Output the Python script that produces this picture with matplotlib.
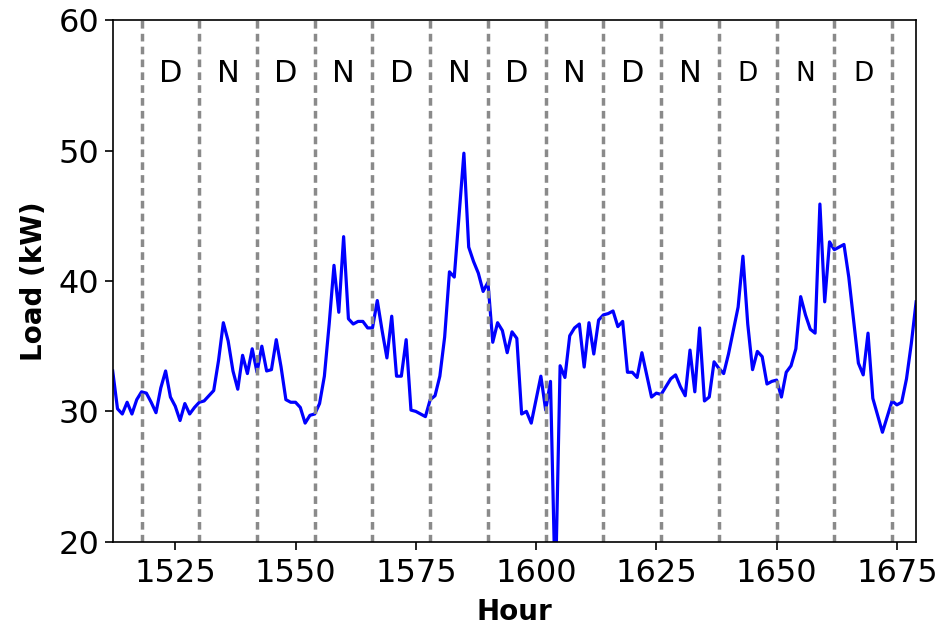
import numpy as np
import matplotlib
matplotlib.use("Agg")
import matplotlib.pyplot as plt

# hourly load, hours 1512..1679
start_hour = 1512
load_kw = [
    33.1, 30.2, 29.8, 30.7, 29.8, 30.9, 31.5, 31.4, 30.7, 29.9,
    31.8, 33.1, 31.1, 30.4, 29.3, 30.6, 29.8, 30.3, 30.7, 30.8,
    31.2, 31.6, 33.9, 36.8, 35.4, 33.1, 31.7, 34.3, 32.9, 34.8,
    33.0, 35.0, 33.1, 33.2, 35.5, 33.4, 30.9, 30.7, 30.7, 30.3,
    29.1, 29.7, 29.8, 30.6, 32.7, 36.7, 41.2, 37.6, 43.4, 37.1,
    36.7, 36.9, 36.9, 36.4, 36.4, 38.5, 36.2, 34.1, 37.3, 32.7,
    32.7, 35.5, 30.1, 30.0, 29.8, 29.6, 30.9, 31.2, 32.7, 35.7,
    40.7, 40.3, 45.0, 49.8, 42.6, 41.5, 40.6, 39.2, 39.9, 35.3,
    36.8, 36.2, 34.5, 36.1, 35.6, 29.8, 30.0, 29.1, 30.9, 32.7,
    30.1, 32.3, 16.0, 33.5, 32.6, 35.8, 36.4, 36.7, 33.4, 36.8,
    34.4, 37.0, 37.4, 37.5, 37.7, 36.5, 36.9, 33.0, 33.0, 32.6,
    34.5, 32.8, 31.1, 31.4, 31.3, 31.9, 32.5, 32.8, 31.9, 31.2,
    34.7, 31.5, 36.4, 30.8, 31.1, 33.8, 33.3, 32.9, 34.4, 36.2,
    38.0, 41.9, 36.7, 33.2, 34.6, 34.2, 32.1, 32.3, 32.4, 31.1,
    33.0, 33.5, 34.8, 38.8, 37.4, 36.3, 36.0, 45.9, 38.4, 43.0,
    42.4, 42.6, 42.8, 40.3, 37.0, 33.7, 32.8, 36.0, 31.0, 29.7,
    28.4, 29.6, 30.8, 30.5, 30.7, 32.5, 35.2, 38.4,
]
hours = np.arange(start_hour, start_hour + len(load_kw))

# day / night boundaries every 12 hours
boundaries = list(range(1518, 1675, 12))
period_labels = ["D", "N", "D", "N", "D", "N", "D", "N", "D", "N", "D", "N", "D"]

fig = plt.figure(figsize=(9.43, 6.3), dpi=100)
ax = fig.add_axes([0.1195, 0.14, 0.852, 0.828])

ax.plot(hours, load_kw, color="b", linewidth=2.3)
for b in boundaries:
    ax.axvline(b, color="#8a8a8a", linestyle=(0, (2.2, 1.5)), linewidth=2.5)

for i, lab in enumerate(period_labels):
    xc = boundaries[i] + 6
    fs = 22 if i < 10 else 19
    ax.text(xc, 55.9, lab, ha="center", va="center", fontsize=fs)

ax.set_xlim(hours[0], hours[-1])
ax.set_ylim(20, 60)
ax.set_xticks([1525, 1550, 1575, 1600, 1625, 1650, 1675])
ax.set_yticks([20, 30, 40, 50, 60])
ax.tick_params(labelsize=23, length=6, width=1.2)
ax.tick_params(axis="x", pad=6)
for s in ax.spines.values():
    s.set_linewidth(1.2)

ax.set_xlabel("Hour", fontsize=20, fontweight="bold", labelpad=6)
ax.set_ylabel("Load (kW)", fontsize=20, fontweight="bold", labelpad=8)

fig.savefig("out.png", dpi=100)
